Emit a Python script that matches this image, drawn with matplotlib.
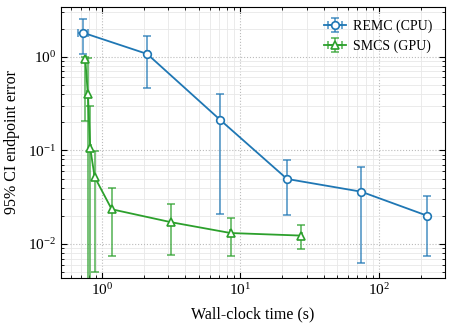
import numpy as np
import matplotlib
matplotlib.use('Agg')
import matplotlib.pyplot as plt

plt.rcParams['font.family'] = ['Liberation Serif', 'DejaVu Serif']
plt.rcParams['mathtext.fontset'] = 'stix'

# REMC (CPU) values
cpu_time = [0.733, 2.12, 7.15, 21.7, 74.5, 222.0]
cpu_time_err = [0.06, 0.05, 0.1, 0.2, 0.5, 1.0]
cpu_err = [1.80, 1.07, 0.211, 0.0495, 0.0362, 0.0201]
cpu_ci = [0.72, 0.61, 0.19, 0.029, 0.030, 0.0127]

# SMCS (GPU)
gpu_time = [0.757, 0.79, 0.823, 0.885, 1.175, 3.15, 8.5, 27.5]
gpu_time_err = [0.005, 0.005, 0.005, 0.005, 0.01, 0.02, 0.05, 0.1]
gpu_err = [0.95, 0.40, 0.105, 0.052, 0.0235, 0.0171, 0.0131, 0.0123]
gpu_ci_lo = [0.745, 0.58, 0.19, 0.047, 0.016, 0.0095, 0.0057, 0.0035]
gpu_ci_hi = [0.04, 0.58, 0.19, 0.047, 0.016, 0.0095, 0.0057, 0.0035]

fig, ax = plt.subplots(figsize=(4.52, 3.28), dpi=100)
fig.subplots_adjust(left=0.135, right=0.9845, top=0.9796, bottom=0.1534)

eb1 = ax.errorbar(cpu_time, cpu_err, yerr=cpu_ci, xerr=cpu_time_err, color='#1f77b4',
                  marker='o', mfc='white', ms=5.5, mew=1.2, lw=1.3, capsize=3,
                  elinewidth=1.2, capthick=1.2, label='REMC (CPU)', zorder=3)
eb2 = ax.errorbar(gpu_time, gpu_err, yerr=[gpu_ci_lo, gpu_ci_hi], xerr=gpu_time_err,
                  color='#2ca02c', marker='^', mfc='white', ms=5.5, mew=1.2, lw=1.3,
                  capsize=3, elinewidth=1.2, capthick=1.2, label='SMCS (GPU)', zorder=2)
# lighter error bars
for eb in (eb1, eb2):
    for c in eb[1]:
        c.set_alpha(0.75)
    for c in eb[2]:
        c.set_alpha(0.75)

ax.set_xscale('log')
ax.set_yscale('log')
ax.set_xlim(0.506, 300)
ax.set_ylim(0.00437, 3.42)

ax.grid(which='major', ls=':', color='#bbbbbb', lw=0.8)
ax.grid(which='minor', ls='-', color='#e8e8e8', lw=0.6)
ax.tick_params(which='both', direction='in', top=True, right=True, labelsize=11)
ax.tick_params(which='major', length=4, width=0.8)
ax.tick_params(which='minor', length=2, width=0.6)

ax.set_xlabel('Wall-clock time (s)', fontsize=11.5, labelpad=6)
ax.set_ylabel('95% CI endpoint error', fontsize=11.5, labelpad=6)
ax.legend(loc='upper right', frameon=False, fontsize=10, handlelength=1.6,
          handletextpad=0.5)

fig.savefig('out.png', dpi=100)
